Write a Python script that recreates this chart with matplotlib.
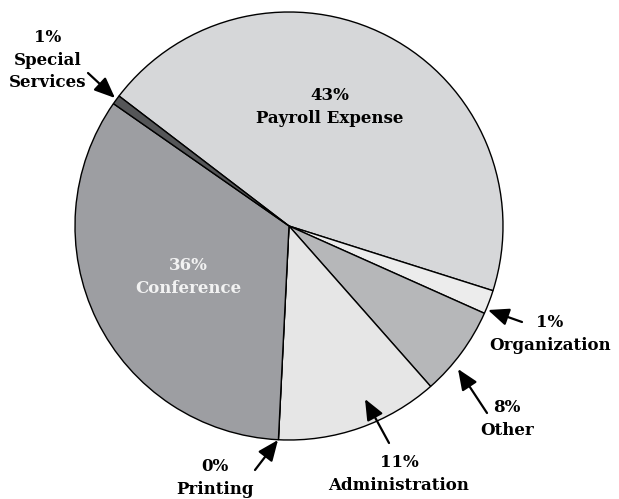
import matplotlib
matplotlib.use("Agg")
import matplotlib.pyplot as plt

# slice sizes, labels as printed on it
names = ['Payroll Expense', 'Organization', 'Other', 'Administration',
         'Printing', 'Conference', 'Special Services']
shares = [44.5, 1.8, 6.8, 12.3, 0.0, 33.9, 0.7]
pct_text = ['43%', '1%', '8%', '11%', '0%', '36%', '1%']
colors = ['#d6d7d9', '#ececec', '#b6b7b9', '#e6e6e6',
          '#e6e6e6', '#9d9ea2', '#555658']

W, H = 619, 499
fig = plt.figure(figsize=(W / 100, H / 100), dpi=100)
ax = fig.add_axes([0, 0, 1, 1])

ax.pie(shares, colors=colors, startangle=142.6, counterclock=False,
       center=(289, H - 226), radius=214,
       wedgeprops=dict(edgecolor='black', linewidth=1.0))
ax.set_xlim(0, W)
ax.set_ylim(0, H)
ax.set_aspect('equal')
ax.axis('off')

font = dict(family='DejaVu Serif', weight='bold', size=12)

def lab(txt, x, y, color='black'):
    ax.text(x, H - y, txt, ha='center', va='center', color=color,
            linespacing=1.4, **font)

def arrow(x0, y0, x1, y1):
    ax.annotate('', xy=(x1, H - y1), xytext=(x0, H - y0),
                arrowprops=dict(arrowstyle='-|>,head_length=0.9,head_width=0.38',
                                color='black', lw=1.6, shrinkA=0, shrinkB=0,
                                mutation_scale=14))

# labels inside slices
lab(pct_text[0] + '\n' + names[0], 330, 107)
lab(pct_text[5] + '\n' + names[5], 188, 277, color='#f2f2f2')

# callout labels
lab(pct_text[6] + '\nSpecial\nServices', 48, 60)
arrow(88, 73, 115, 98)

lab(pct_text[1] + '\n' + names[1], 550, 334)
arrow(522, 322, 488, 310)

lab(pct_text[2] + '\n' + names[2], 507, 419)
arrow(487, 413, 458, 369)

lab(pct_text[3] + '\n' + names[3], 399, 474)
arrow(389, 443, 365, 399)

lab(pct_text[4] + '\n' + names[4], 215, 478)
arrow(255, 470, 278, 440)

fig.savefig('out.png', dpi=100)
